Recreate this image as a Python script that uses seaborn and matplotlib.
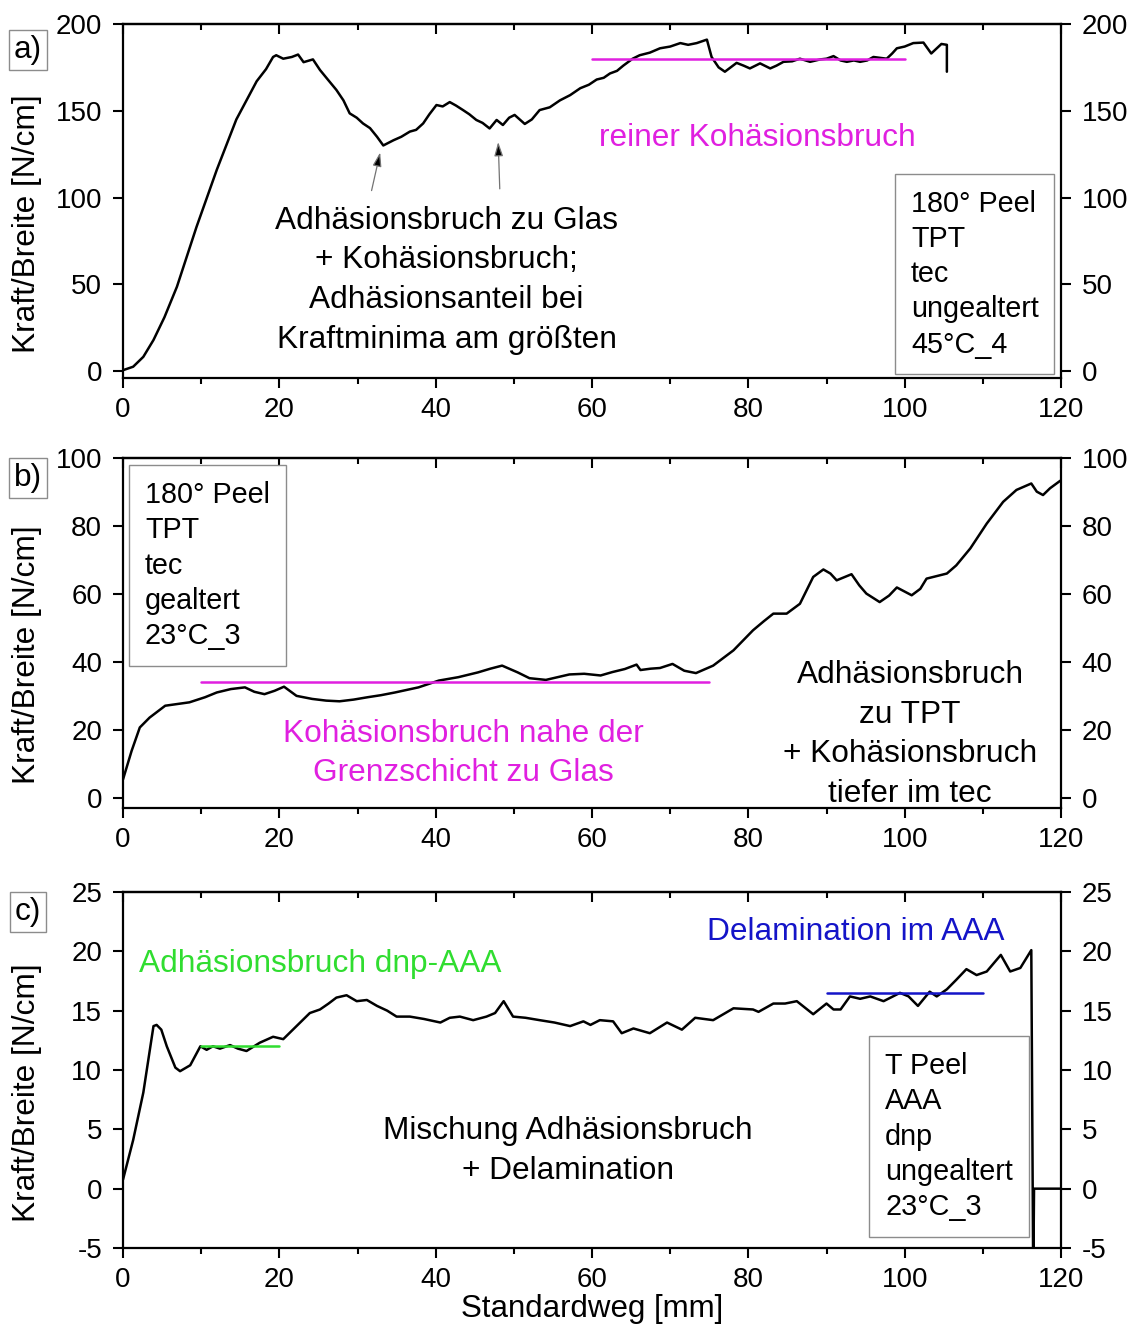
import numpy as np
import pandas as pd
import seaborn as sns
import matplotlib
matplotlib.use("Agg")
import matplotlib.pyplot as plt
from matplotlib.ticker import MultipleLocator

# ---------------- data ----------------
xa = [0, 1.3, 2.6, 3.9, 5.3, 6.9, 9.4, 12.0, 14.5, 17.1, 18.3, 19.2, 19.6, 20.5, 21.6, 22.4, 23.1,
      24.3, 25.2, 26.2, 27.3, 28.2, 29.0, 29.9, 30.7, 31.6, 32.5, 33.3, 34.6, 35.6, 36.7, 37.5,
      38.4, 39.2, 40.1, 40.9, 41.8, 42.6, 43.5, 44.3, 45.2, 46.0, 46.9, 47.8, 48.6, 49.4,
      50.1, 51.4, 52.3, 53.3, 54.6, 55.9, 57.2, 58.5, 59.6, 60.6, 61.5, 62.3, 63.2, 64.0,
      65.2, 66.1, 67.4, 68.7, 70.0, 71.3, 72.3, 73.4, 74.7, 75.3, 76.2, 77.0, 78.5, 79.4,
      80.2, 81.5, 82.8, 83.6, 84.5, 85.6, 86.6, 87.9, 89.2, 90.0, 90.9, 91.8, 92.6, 93.5,
      94.3, 95.2, 96.0, 97.7, 98.4, 99.0, 100.0, 101.1, 102.4, 103.4, 104.7, 105.4, 105.4]
ya = [0.5, 2.5, 8.2, 17.9, 31, 48.6, 83, 116, 145, 167, 174, 181, 182, 180, 181, 182.4, 178,
      179.6, 173.5, 168, 162, 156, 148.5, 146, 142.7, 140, 135, 130, 133, 135, 138, 139,
      142.7, 148, 153.3, 152.5, 155, 153, 150.4, 148, 144.7, 143, 139.8, 144.7, 141.8, 146,
      147.6, 142.4, 145, 150.4, 152, 156, 159, 163, 165, 168, 169, 171.5, 173, 176,
      180, 182, 183.5, 186, 187, 189, 188, 189, 191, 181, 175, 172.5, 177.6, 176,
      174.4, 177.3, 174.4, 176, 178.2, 178.5, 180, 178.2, 179.6, 180, 181.5, 179, 178.2, 179,
      178.2, 179, 181, 180, 183, 186, 187, 189, 189.3, 183, 188.5, 188, 172.5]

xb = [0, 1.1, 2.15, 3.4, 5.4, 8.5, 10.5, 12.0, 13.8, 15.6, 16.8, 18.1, 19.4, 20.6, 22.2,
      24.2, 26.0, 27.7, 29.5, 31.3, 33.0, 34.8, 37.8, 40.4, 42.9, 45.4, 47.0, 48.5, 50.5,
      52.0, 54.1, 55.6, 57.1, 59.0, 61.1, 62.6, 64.2, 65.7, 66.2, 67.5, 68.7, 70.3, 71.8,
      73.3, 75.5, 78.1, 80.6, 82.0, 83.2, 84.9, 86.6, 88.3, 89.6, 90.5, 91.3, 93.2, 94.2,
      95.1, 96.8, 98.0, 99.0, 100.9, 102.0, 102.8, 105.4, 106.6, 108.4, 110.5, 112.6, 114.3,
      116.2, 116.9, 117.7, 118.6, 119.9]
yb = [5.4, 13.8, 20.7, 23.6, 27.1, 28.1, 29.6, 31.0, 32.0, 32.5, 31.2, 30.5, 31.5, 32.7, 30.0,
      29.1, 28.6, 28.4, 28.9, 29.6, 30.2, 31.0, 32.5, 34.5, 35.5, 36.9, 38.0, 38.9, 36.9,
      35.2, 34.7, 35.5, 36.3, 36.5, 36.0, 37.0, 37.9, 39.2, 37.6, 38.0, 38.2, 39.4, 37.4,
      36.7, 38.9, 43.4, 49.3, 52.0, 54.2, 54.2, 57.1, 65.0, 67.2, 66.0, 64.0, 65.8, 62.5,
      60.1, 57.6, 59.5, 61.9, 59.6, 61.5, 64.5, 66.0, 68.4, 73.4, 80.7, 87.1, 90.6,
      92.5, 90.1, 89.1, 91.1, 93.3]

xc = [0, 1.3, 2.6, 3.9, 4.3, 4.9, 5.6, 6.7, 7.3, 8.6, 9.9, 10.7, 11.5, 12.4, 13.7, 14.7, 15.8,
      17.5, 19.2, 20.5, 22.2, 23.9, 25.2, 26.3, 27.3, 28.6, 29.9, 31.2, 32.5, 33.8, 35.0,
      36.7, 38.5, 40.6, 41.8, 43.1, 44.8, 46.5, 47.6, 48.7, 49.9, 51.5, 53.3, 55.2, 57.2,
      58.9, 59.8, 61.0, 62.7, 63.8, 65.3, 67.4, 69.6, 71.5, 73.2, 75.5, 76.8, 78.1, 80.6,
      81.3, 83.2, 84.7, 86.2, 88.3, 90.0, 90.9, 91.8, 93.0, 94.3, 95.6, 97.3, 99.4, 100.5,
      101.7, 103.2, 104.1, 105.4, 106.6, 107.9, 109.2, 110.5, 112.3, 113.5, 114.8, 116.2,
      116.45, 116.55, 120.0]
yc = [0.76, 4.1, 8.1, 13.7, 13.8, 13.4, 12.0, 10.2, 9.9, 10.4, 12.0, 11.7, 12.0, 11.8, 12.1,
      11.8, 11.6, 12.3, 12.8, 12.6, 13.7, 14.8, 15.1, 15.6, 16.1, 16.3, 15.8, 15.9, 15.4,
      15.0, 14.5, 14.5, 14.3, 14.0, 14.4, 14.5, 14.2, 14.5, 14.8, 15.8, 14.5, 14.4, 14.2,
      14.0, 13.7, 14.1, 13.8, 14.2, 14.1, 13.1, 13.5, 13.1, 14.0, 13.4, 14.4, 14.2, 14.7,
      15.2, 15.1, 14.9, 15.6, 15.6, 15.8, 14.7, 15.6, 15.1, 15.1, 16.2, 16.0, 16.2, 15.8,
      16.5, 16.2, 15.4, 16.6, 16.2, 16.8, 17.6, 18.5, 18.0, 18.3, 19.7, 18.3, 18.6, 20.1,
      -8.0, 0.0, 0.0]

# reference level lines (x start, x end, y)
ref_a = ([60, 100], [180, 180])
ref_b = ([10, 75], [34, 34])
ref_c_green = ([10, 20], [12, 12])
ref_c_blue = ([90, 110], [16.5, 16.5])

ylim_a, yticks_a = (-4, 200), [0, 50, 100, 150, 200]
ylim_b, yticks_b = (-3, 100), [0, 20, 40, 60, 80, 100]
ylim_c, yticks_c = (-5, 25), [-5, 0, 5, 10, 15, 20, 25]

box_a = "180° Peel\nTPT\ntec\nungealtert\n45°C_4"
box_b = "180° Peel\nTPT\ntec\ngealtert\n23°C_3"
box_c = "T Peel\nAAA\ndnp\nungealtert\n23°C_3"

# ---------------- style ----------------
sns.set_theme(style="ticks")
plt.rcParams['font.family'] = ['Liberation Sans', 'DejaVu Sans']
plt.rcParams['axes.unicode_minus'] = False
for k in ['text.color', 'axes.labelcolor', 'xtick.color', 'ytick.color', 'axes.edgecolor']:
    plt.rcParams[k] = 'black'
FS = 20          # tick labels
FT = 22.8        # annotations / axis labels
FB = 20.7        # info boxes
MAG = '#e020e0'
GRN = '#30dd30'
BLU = '#1414c8'

W, H = 1132, 1324
fig = plt.figure(figsize=(W / 100, H / 100), dpi=100)

def rect(top, bottom):
    left, right = 123, 1061
    return [left / W, 1 - bottom / H, (right - left) / W, (bottom - top) / H]

axes = [fig.add_axes(rect(24, 378)), fig.add_axes(rect(458, 808)), fig.add_axes(rect(892, 1248))]

def style(ax, ylim, yticks):
    ax.set_xlim(0, 120)
    ax.set_ylim(*ylim)
    ax.set_xticks(np.arange(0, 121, 20))
    ax.xaxis.set_minor_locator(MultipleLocator(10))
    ax.set_yticks(yticks)
    ax.tick_params(axis='x', which='major', direction='out', length=7, width=1.5,
                   labelsize=FS, pad=7, bottom=True, top=False)
    ax.tick_params(axis='x', which='minor', direction='out', length=4, width=1.5,
                   bottom=True, top=False)
    ax.tick_params(axis='y', which='major', direction='out', length=7, width=1.5,
                   labelsize=FS, pad=8, left=True, right=True, labelright=True)
    sec = ax.secondary_xaxis('top')
    sec.set_xticks(np.arange(0, 121, 20))
    sec.xaxis.set_minor_locator(MultipleLocator(10))
    sec.tick_params(axis='x', which='major', direction='in', length=7, width=1.5, labeltop=False)
    sec.tick_params(axis='x', which='minor', direction='in', length=4, width=1.5)
    sec.spines['top'].set_linewidth(1.6)
    for s in ax.spines.values():
        s.set_visible(True)
        s.set_linewidth(1.6)
        s.set_color('black')
    ax.set_ylabel("Kraft/Breite [N/cm]", fontsize=FT)
    ax.yaxis.set_label_coords(-0.086, 0.437)
    ax.set_xlabel("")

def draw(ax, x, y):
    df = pd.DataFrame({'x': x, 'y': y})
    sns.lineplot(data=df, x='x', y='y', ax=ax, estimator=None, sort=False,
                 color='black', lw=1.8)

def infobox(ax, x, y, s):
    ax.text(x, y, s, fontsize=FB, ha='left', va='center', linespacing=1.33,
            bbox=dict(boxstyle='square,pad=0.55', fc='white', ec='0.55', lw=1.0))

# ---- panel a ----
ax = axes[0]
draw(ax, xa, ya)
sns.lineplot(x=ref_a[0], y=ref_a[1], ax=ax, color=MAG, lw=1.8, estimator=None)
style(ax, ylim_a, yticks_a)
ax.text(41.4, 52.4, "Adhäsionsbruch zu Glas\n+ Kohäsionsbruch;\nAdhäsionsanteil bei\nKraftminima am größten",
        fontsize=FT, ha='center', va='center', multialignment='center', linespacing=1.42)
ax.text(81.2, 134.3, "reiner Kohäsionsbruch", fontsize=FT, color=MAG, ha='center', va='center')
for (x0, y0, x1, y1) in [(31.8, 104, 32.9, 126), (48.2, 105, 48.0, 132)]:
    ax.annotate("", xy=(x1, y1), xytext=(x0, y0),
                arrowprops=dict(arrowstyle='-|>,head_length=0.7,head_width=0.22',
                                ec='0.45', fc='black', lw=0.9, shrinkA=0, shrinkB=0))
infobox(ax, 100.8, 55.9, box_a)

# ---- panel b ----
ax = axes[1]
draw(ax, xb, yb)
sns.lineplot(x=ref_b[0], y=ref_b[1], ax=ax, color=MAG, lw=1.8, estimator=None)
style(ax, ylim_b, yticks_b)
ax.text(43.6, 13, "Kohäsionsbruch nahe der\nGrenzschicht zu Glas", fontsize=FT, color=MAG,
        ha='center', va='center', multialignment='center', linespacing=1.42)
ax.text(100.7, 18.6, "Adhäsionsbruch\nzu TPT\n+ Kohäsionsbruch\ntiefer im tec", fontsize=FT,
        ha='center', va='center', multialignment='center', linespacing=1.42)
infobox(ax, 2.8, 68.3, box_b)

# ---- panel c ----
ax = axes[2]
draw(ax, xc, yc)
sns.lineplot(x=ref_c_green[0], y=ref_c_green[1], ax=ax, color=GRN, lw=1.8, estimator=None)
sns.lineplot(x=ref_c_blue[0], y=ref_c_blue[1], ax=ax, color=BLU, lw=1.8, estimator=None)
style(ax, ylim_c, yticks_c)
ax.text(25.2, 18.9, "Adhäsionsbruch dnp-AAA", fontsize=FT, color=GRN, ha='center', va='center')
ax.text(93.8, 21.6, "Delamination im AAA", fontsize=FT, color=BLU, ha='center', va='center')
ax.text(56.9, 3.2, "Mischung Adhäsionsbruch\n+ Delamination", fontsize=FT,
        ha='center', va='center', multialignment='center', linespacing=1.42)
infobox(ax, 97.5, 4.38, box_c)
ax.set_xlabel("Standardweg [mm]", fontsize=22.5)
ax.xaxis.set_label_coords(0.5, -0.129)

# panel letters
for lab, ypx in [("a)", 50), ("b)", 478), ("c)", 912)]:
    fig.text(28 / W, 1 - ypx / H, lab, fontsize=FT, ha='center', va='center',
             bbox=dict(boxstyle='square,pad=0.15', fc='white', ec='0.55', lw=1.0))

fig.savefig("out.png", dpi=100)
